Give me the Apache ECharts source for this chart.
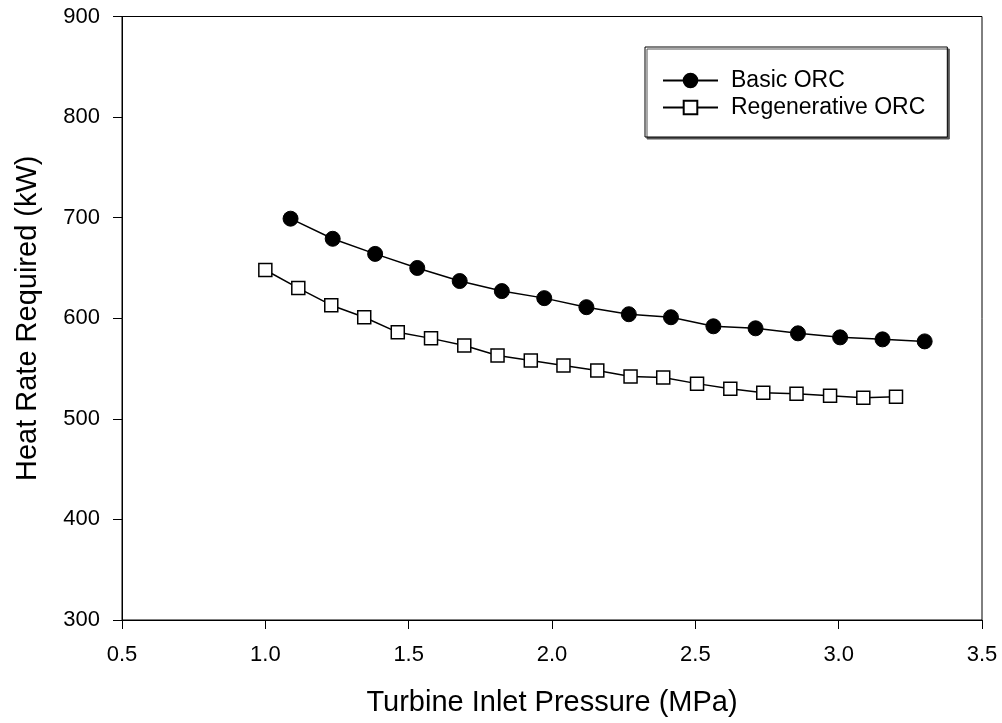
<!DOCTYPE html>
<html>
<head>
<meta charset="utf-8">
<script src="https://cdn.jsdelivr.net/npm/echarts@6/dist/echarts.min.js"></script>
<style>
html,body{margin:0;padding:0;background:#fff;}
#chart{width:1002px;height:723px;}
</style>
</head>
<body>
<div id="chart"></div>
<script>
// Data
var basicX = [1.088, 1.235, 1.383, 1.530, 1.678, 1.825, 1.973, 2.120, 2.268, 2.415, 2.563, 2.710, 2.858, 3.005, 3.153, 3.300];
var basicY = [699, 679, 664, 650, 637, 627, 620, 611, 604, 601, 592, 590, 585, 581, 579, 577];
var regenX = [1.000, 1.115, 1.230, 1.345, 1.462, 1.578, 1.694, 1.810, 1.926, 2.040, 2.158, 2.274, 2.388, 2.506, 2.622, 2.737, 2.853, 2.970, 3.086, 3.200];
var regenY = [648, 630, 613, 601, 586, 580, 573, 563, 558, 553, 548, 542, 541, 535, 530, 526, 525, 523, 521, 522];
var seriesNames = ['Basic ORC', 'Regenerative ORC'];
var xTitle = 'Turbine Inlet Pressure (MPa)';
var yTitle = 'Heat Rate Required (kW)';

function pairs(xs, ys) { return xs.map(function (x, i) { return [x, ys[i]]; }); }

var font = 'Liberation Sans, Arial, sans-serif';
var chart = echarts.init(document.getElementById('chart'), null, {renderer: 'canvas'});
chart.setOption({
  animation: false,
  backgroundColor: '#fff',
  grid: {left: 122, right: 20, top: 16.5, bottom: 103, show: true, borderColor: '#000', borderWidth: 1, backgroundColor: 'transparent'},
  legend: {
    orient: 'vertical', left: 645, top: 47,
    padding: [22, 22, 18, 17], itemGap: 4,
    itemWidth: 55, itemHeight: 17,
    backgroundColor: '#fff', borderColor: '#000', borderWidth: 1,
    shadowColor: '#555', shadowBlur: 0, shadowOffsetX: 2, shadowOffsetY: 2,
    textStyle: {fontFamily: font, fontSize: 23, color: '#000', padding: [0, 0, 0, 8]},
    data: seriesNames
  },
  xAxis: {
    type: 'value', min: 0.5, max: 3.5, interval: 0.5,
    name: xTitle, nameLocation: 'middle', nameGap: 68,
    nameTextStyle: {fontFamily: font, fontSize: 29, color: '#000'},
    axisLine: {show: true, lineStyle: {color: '#000', width: 1}},
    axisTick: {show: true, inside: false, length: 9, lineStyle: {color: '#000', width: 1}},
    axisLabel: {fontFamily: font, fontSize: 22, color: '#000', margin: 24, formatter: function (v) { return v.toFixed(1); }},
    splitLine: {show: false}
  },
  yAxis: {
    type: 'value', min: 300, max: 900, interval: 100,
    name: yTitle, nameLocation: 'middle', nameGap: 80, nameRotate: 90,
    nameTextStyle: {fontFamily: font, fontSize: 29, color: '#000'},
    axisLine: {show: true, lineStyle: {color: '#000', width: 1}},
    axisTick: {show: true, inside: false, length: 9, lineStyle: {color: '#000', width: 1}},
    axisLabel: {fontFamily: font, fontSize: 22, color: '#000', margin: 22},
    splitLine: {show: false}
  },
  series: [
    {
      name: seriesNames[0], type: 'line', data: pairs(basicX, basicY),
      symbol: 'circle', symbolSize: 15,
      lineStyle: {color: '#000', width: 1.5},
      itemStyle: {color: '#000', borderColor: '#000', borderWidth: 1}
    },
    {
      name: seriesNames[1], type: 'line', data: pairs(regenX, regenY),
      symbol: 'rect', symbolSize: 13,
      lineStyle: {color: '#000', width: 1.5},
      itemStyle: {color: '#fff', borderColor: '#000', borderWidth: 1.5}
    }
  ]
});
</script>
</body>
</html>
